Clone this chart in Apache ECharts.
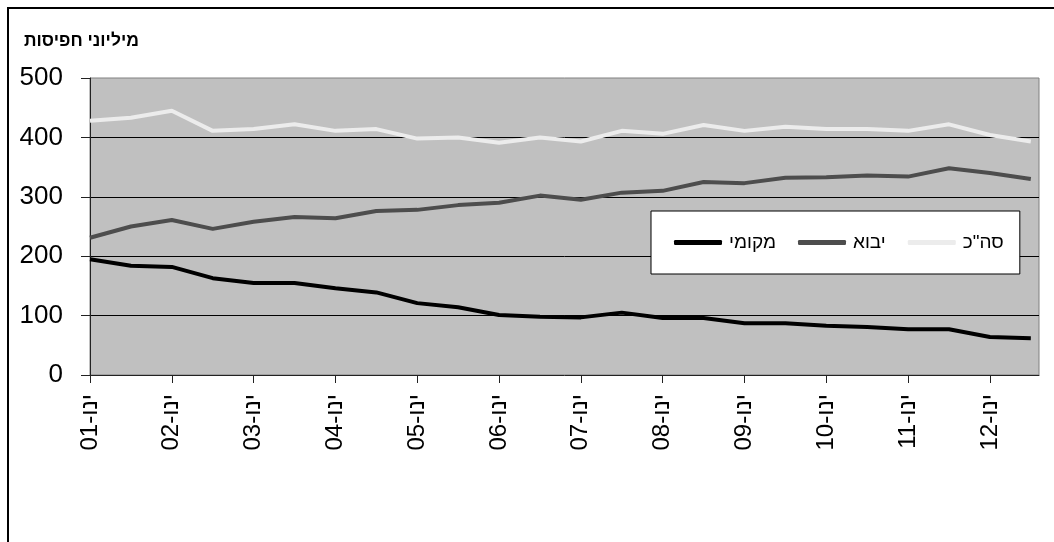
<!DOCTYPE html>
<html>
<head>
<meta charset="utf-8">
<script src="https://cdn.jsdelivr.net/npm/echarts@6/dist/echarts.min.js"></script>
<style>
html,body{margin:0;padding:0;background:#fff;}
#chart{width:1054px;height:542px;}
</style>
</head>
<body>
<div id="chart"></div>
<script>
// Periods (fractional years: January and July of each year)
const periods = [2001, 2001.5, 2002, 2002.5, 2003, 2003.5, 2004, 2004.5, 2005, 2005.5, 2006, 2006.5,
                 2007, 2007.5, 2008, 2008.5, 2009, 2009.5, 2010, 2010.5, 2011, 2011.5, 2012, 2012.5];
const tickYears = [2001, 2002, 2003, 2004, 2005, 2006, 2007, 2008, 2009, 2010, 2011, 2012];
const tickLabels = ['ינו-01','ינו-02','ינו-03','ינו-04','ינו-05','ינו-06','ינו-07','ינו-08','ינו-09','ינו-10','ינו-11','ינו-12'];
const yTicks = [0, 100, 200, 300, 400, 500];

const seriesNames = ['מקומי', 'יבוא', 'סה"כ'];
const localVals  = [195, 184, 182, 163, 155, 155, 146, 139, 121, 114, 101, 98,
                    97, 105, 96, 96, 87, 87, 83, 81, 77, 77, 64, 62];
const importVals = [231, 250, 261, 246, 258, 266, 264, 276, 278, 286, 290, 302,
                    295, 307, 310, 325, 323, 332, 333, 336, 334, 348, 340, 330];
const totalVals  = [428, 433, 445, 411, 414, 422, 411, 414, 398, 400, 391, 400,
                    393, 411, 406, 421, 411, 418, 414, 414, 411, 422, 404, 393];

const FONT = "'Liberation Sans', Arial, sans-serif";
const pair = arr => periods.map((p, i) => [p, arr[i]]);

const chart = echarts.init(document.getElementById('chart'), null, {renderer: 'canvas'});
chart.setOption({
  animation: false,
  backgroundColor: '#ffffff',
  textStyle: {fontFamily: FONT},
  title: {
    text: 'מיליוני חפיסות',
    left: 24, top: 32, padding: 0,
    textStyle: {fontSize: 17.5, fontWeight: 'bold', color: '#000', fontFamily: FONT}
  },
  graphic: [{
    type: 'rect', silent: true, z: 100,
    shape: {x: 8, y: 8, width: 1100, height: 600},
    style: {fill: 'none', stroke: '#000', lineWidth: 2}
  }],
  grid: {
    left: 90, top: 78, right: 15, bottom: 167,
    show: true, backgroundColor: '#c0c0c0', borderColor: '#808080', borderWidth: 1,
    containLabel: false
  },
  legend: {
    data: seriesNames,
    left: 651, top: 211,
    orient: 'horizontal',
    backgroundColor: '#ffffff',
    borderColor: '#000', borderWidth: 1,
    padding: [22, 16, 22, 23],
    itemWidth: 48, itemHeight: 5, itemGap: 22,
    icon: 'roundRect',
    textStyle: {fontSize: 19, color: '#000', fontFamily: FONT, padding: [0, 0, 0, 2]},
    z: 10
  },
  xAxis: {
    type: 'value',
    min: 2001, max: 2012.6, interval: 1,
    axisLine: {show: true, lineStyle: {color: '#222', width: 1}},
    axisTick: {show: true, length: 8, inside: false, customValues: tickYears, lineStyle: {color: '#222'}},
    splitLine: {show: false},
    axisLabel: {
      customValues: tickYears,
      rotate: 90, margin: 19, fontSize: 24, color: '#000', fontFamily: FONT,
      formatter: v => tickLabels[tickYears.indexOf(Math.round(v))] || ''
    }
  },
  yAxis: {
    type: 'value',
    min: 0, max: 500, interval: 100,
    axisLine: {show: true, lineStyle: {color: '#222', width: 1}},
    axisTick: {show: true, length: 9, inside: false, lineStyle: {color: '#222'}},
    splitLine: {show: true, showMinLine: false, showMaxLine: false, lineStyle: {color: '#000', width: 1}},
    axisLabel: {margin: 27, fontSize: 26, color: '#000', fontFamily: FONT,
      formatter: v => String(yTicks[yTicks.indexOf(v)])}
  },
  series: [
    {name: seriesNames[0], type: 'line', data: pair(localVals), symbol: 'none',
     lineStyle: {color: '#000000', width: 4}, itemStyle: {color: '#000000'}},
    {name: seriesNames[1], type: 'line', data: pair(importVals), symbol: 'none',
     lineStyle: {color: '#4d4d4d', width: 4}, itemStyle: {color: '#4d4d4d'}},
    {name: seriesNames[2], type: 'line', data: pair(totalVals), symbol: 'none',
     lineStyle: {color: '#ececec', width: 4}, itemStyle: {color: '#ececec'}}
  ]
});
</script>
</body>
</html>
